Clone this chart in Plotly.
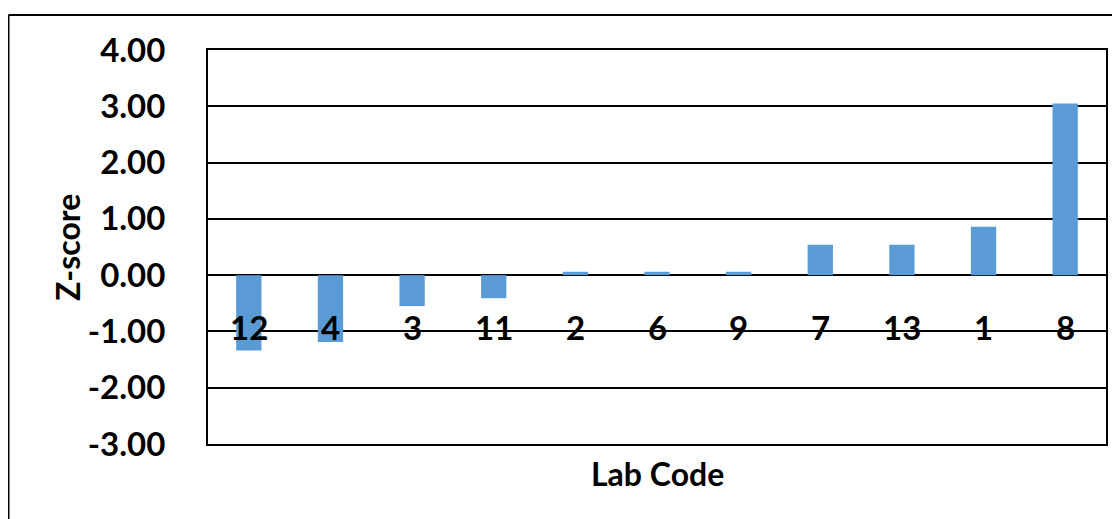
import plotly.graph_objects as go

lab_codes = ["12", "4", "3", "11", "2", "6", "9", "7", "13", "1", "8"]
z_scores = [-1.34, -1.19, -0.55, -0.41, 0.06, 0.06, 0.06, 0.54, 0.54, 0.86, 3.05]
y_ticks = [-3, -2, -1, 0, 1, 2, 3, 4]
y_tick_text = ["-3.00", "-2.00", "-1.00", "0.00", "1.00", "2.00", "3.00", "4.00"]
label_level = -0.92

FONT = "Lato"
OFF = 8  # page offset of the plot div (body margin)
W, H = 1120 - OFF, 519 - OFF
# target plot area in page pixels: x 208..1106, y 50.5..444
L = 208 - OFF
T = 50 - OFF
R = W - (1106 - OFF)
B = H - (444 - OFF)
pw, ph = W - L - R, H - T - B

def px(x):
    return (x - OFF - L) / pw

def py(y):
    return (H - B - (y - OFF)) / ph

fig = go.Figure()
fig.add_trace(go.Bar(x=lab_codes, y=z_scores, marker=dict(color="#5B9BD5", line=dict(width=0)),
                     width=0.31, showlegend=False))

for i, code in enumerate(lab_codes):
    fig.add_annotation(x=i, y=label_level, text=code, showarrow=False,
                       font=dict(family=FONT, size=33, color="black", weight="bold"),
                       xanchor="center", yanchor="middle")

fig.add_annotation(xref="paper", yref="paper", x=px(657), y=py(473), text="Lab Code",
                   showarrow=False, font=dict(family=FONT, size=32, color="black", weight="bold"),
                   xanchor="center", yanchor="middle")
fig.add_annotation(xref="paper", yref="paper", x=px(67), y=py(248), text="Z-score",
                   showarrow=False, textangle=-90,
                   font=dict(family=FONT, size=32, color="black", weight="bold"),
                   xanchor="center", yanchor="middle")

# outer chart border (left and top edges only are visible)
fig.add_shape(type="line", xref="paper", yref="paper", x0=px(8.5), y0=py(15), x1=px(8.5), y1=py(519),
              line=dict(color="black", width=2), layer="below")
fig.add_shape(type="line", xref="paper", yref="paper", x0=px(8.5), y0=py(15), x1=px(1120), y1=py(15),
              line=dict(color="black", width=2), layer="below")

fig.update_layout(
    width=W, height=H,
    margin=dict(l=L, r=R, t=T, b=B, autoexpand=False),
    plot_bgcolor="white", paper_bgcolor="white",
    xaxis=dict(type="category", range=[-0.5, len(lab_codes) - 0.5], showticklabels=False,
               showgrid=False, zeroline=False, showline=True, mirror=True, automargin=False,
               linecolor="black", linewidth=2, ticks=""),
    yaxis=dict(range=[-3, 4], tickvals=y_ticks, ticktext=y_tick_text, automargin=False,
               showgrid=True, gridcolor="black", gridwidth=2, zeroline=False,
               showline=True, mirror=True, linecolor="black", linewidth=2, ticks="",
               ticklabelstandoff=34,
               tickfont=dict(family=FONT, size=33, color="black", weight="bold")),
)

fig.write_html("out.html")
